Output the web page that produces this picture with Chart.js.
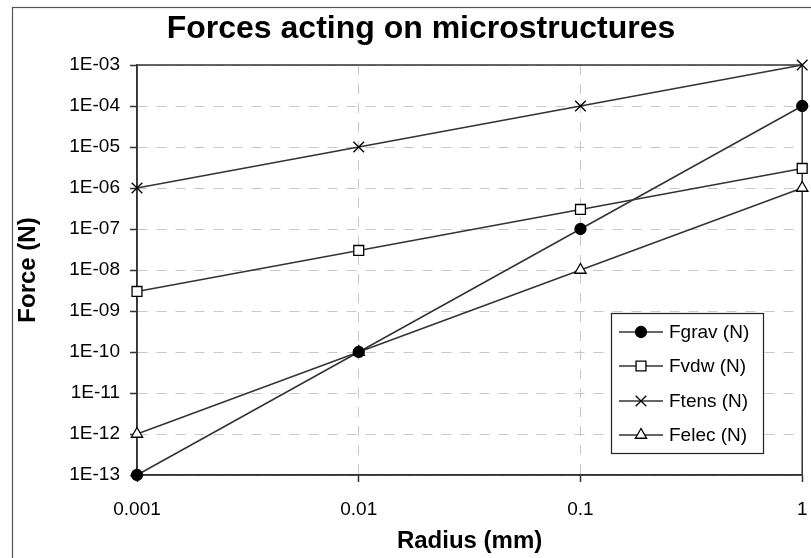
<!DOCTYPE html>
<html>
<head>
<meta charset="utf-8">
<script src="https://cdn.jsdelivr.net/npm/chart.js@4.4.1/dist/chart.umd.min.js"></script>
<style>
html,body{margin:0;padding:0;background:#fff;}
#wrap{width:811px;height:558px;position:relative;}
</style>
</head>
<body>
<div id="wrap"><canvas id="c" width="811" height="558"></canvas></div>
<script>
// ---- data ----
const radius = [0.001, 0.01, 0.1, 1];
const fgrav = [1e-13, 1e-10, 1e-7, 1e-4];
const fvdw  = [3e-9, 3e-8, 3e-7, 3e-6];
const ftens = [1e-6, 1e-5, 1e-4, 1e-3];
const felec = [1e-12, 1e-10, 1e-8, 1e-6];
const seriesNames = ['Fgrav (N)', 'Fvdw (N)', 'Ftens (N)', 'Felec (N)'];
const xTickValues = [0.001, 0.01, 0.1, 1];
const xTickLabels = ['0.001', '0.01', '0.1', '1'];
const yTickValues = [1e-13, 1e-12, 1e-11, 1e-10, 1e-9, 1e-8, 1e-7, 1e-6, 1e-5, 1e-4, 1e-3];
const yTickLabels = ['1E-13', '1E-12', '1E-11', '1E-10', '1E-09', '1E-08', '1E-07', '1E-06', '1E-05', '1E-04', '1E-03'];
const chartTitle = 'Forces acting on microstructures';

const FONT = '"Liberation Sans", Arial, sans-serif';
const LINE = '#333333';

function pts(vals) { return radius.map((r, i) => ({x: r, y: vals[i]})); }

const styles = [
  {pointStyle: 'circle',   pointRadius: 5.5, bg: '#000000'},
  {pointStyle: 'rect',     pointRadius: 7,   bg: '#ffffff'},
  {pointStyle: 'crossRot', pointRadius: 7.5, bg: '#ffffff'},
  {pointStyle: 'triangle', pointRadius: 6.5, bg: '#ffffff'}
];
const series = [fgrav, fvdw, ftens, felec];

const datasets = series.map((s, i) => ({
  label: seriesNames[i],
  data: pts(s),
  showLine: true,
  borderColor: LINE,
  borderWidth: 1.5,
  pointStyle: styles[i].pointStyle,
  pointRadius: styles[i].pointRadius,
  pointBackgroundColor: styles[i].bg,
  pointBorderColor: '#000000',
  pointBorderWidth: 1.3,
  clip: false
}));

function findIdx(arr, v) {
  for (let i = 0; i < arr.length; i++) if (Math.abs(Math.log10(arr[i]) - Math.log10(v)) < 1e-6) return i;
  return -1;
}

const framePlugin = {
  id: 'frame',
  beforeDraw(chart) {
    const ctx = chart.ctx;
    ctx.save();
    ctx.fillStyle = '#ffffff';
    ctx.fillRect(0, 0, chart.width, chart.height);
    ctx.strokeStyle = '#555555';
    ctx.lineWidth = 1.2;
    ctx.strokeRect(12.5, 7.5, 1000, 800);
    ctx.restore();
  },
  beforeDatasetsDraw(chart) {
    const a = chart.chartArea;
    const ctx = chart.ctx;
    ctx.save();
    ctx.strokeStyle = LINE;
    ctx.lineWidth = 1.5;
    ctx.strokeRect(a.left, a.top, a.right - a.left, a.bottom - a.top);
    ctx.restore();
  },
  afterDraw(chart) {
    const ctx = chart.ctx;
    ctx.save();
    ctx.fillStyle = '#000000';
    ctx.font = 'bold 32px ' + FONT;
    ctx.textAlign = 'center';
    ctx.textBaseline = 'middle';
    ctx.fillText(chartTitle, 421, 29);
    ctx.restore();
  }
};

const legendPlugin = {
  id: 'customLegend',
  afterDraw(chart) {
    const ctx = chart.ctx;
    const bx = 611, by = 313, bw = 152, bh = 140;
    ctx.save();
    ctx.fillStyle = '#ffffff';
    ctx.fillRect(bx, by, bw, bh);
    ctx.strokeStyle = '#222222';
    ctx.lineWidth = 1.2;
    ctx.strokeRect(bx + 0.5, by + 0.5, bw, bh);
    const rows = [332, 366, 401, 435];
    chart.data.datasets.forEach((ds, i) => {
      const y = rows[i];
      ctx.strokeStyle = LINE;
      ctx.lineWidth = 1.5;
      ctx.beginPath();
      ctx.moveTo(619, y);
      ctx.lineTo(663, y);
      ctx.stroke();
      ctx.fillStyle = ds.pointBackgroundColor;
      ctx.strokeStyle = '#000000';
      ctx.lineWidth = 1.3;
      Chart.helpers.drawPoint(ctx, {pointStyle: ds.pointStyle, radius: ds.pointRadius, rotation: 0, borderWidth: 1.3}, 641, y);
      ctx.fillStyle = '#000000';
      ctx.font = '19px ' + FONT;
      ctx.textAlign = 'left';
      ctx.textBaseline = 'middle';
      ctx.fillText(ds.label, 669, y + 1);
    });
    ctx.restore();
  }
};

new Chart(document.getElementById('c'), {
  type: 'scatter',
  data: {datasets},
  plugins: [framePlugin, legendPlugin],
  options: {
    responsive: false,
    animation: false,
    devicePixelRatio: 1,
    layout: {padding: {left: 0, right: 8, top: 65, bottom: 0}},
    plugins: {
      legend: {display: false},
      tooltip: {enabled: false},
      title: {display: false}
    },
    scales: {
      x: {
        type: 'logarithmic',
        min: 0.001,
        max: 1,
        afterBuildTicks(scale) { scale.ticks = xTickValues.map(v => ({value: v, major: true})); },
        afterFit(scale) { scale.height = 83; scale.paddingLeft = 0; scale.paddingRight = 0; },
        ticks: {
          color: '#000000',
          font: {family: FONT, size: 19},
          padding: 16,
          maxRotation: 0,
          autoSkip: false,
          callback(v) { const k = findIdx(xTickValues, v); return k >= 0 ? xTickLabels[k] : ''; }
        },
        grid: {color: '#c8c8c8', lineWidth: 1, tickLength: 7, tickColor: LINE, tickWidth: 1.5},
        border: {display: true, color: LINE, width: 1.5, dash: [10, 9]},
        title: {display: true, text: 'Radius (mm)', color: '#000000', font: {family: FONT, size: 24, weight: 'bold'}, padding: {top: 0, bottom: 2}}
      },
      y: {
        type: 'logarithmic',
        min: 1e-13,
        max: 1e-3,
        afterBuildTicks(scale) { scale.ticks = yTickValues.map(v => ({value: v, major: true})); },
        afterFit(scale) { scale.width = 137; scale.paddingTop = 0; scale.paddingBottom = 0; },
        ticks: {
          color: '#000000',
          font: {family: FONT, size: 19},
          padding: 10,
          autoSkip: false,
          callback(v) { const k = findIdx(yTickValues, v); return k >= 0 ? yTickLabels[k] : ''; }
        },
        grid: {color: '#c8c8c8', lineWidth: 1, tickLength: 7, tickColor: LINE, tickWidth: 1.5},
        border: {display: true, color: LINE, width: 1.5, dash: [10, 9]},
        title: {display: true, text: 'Force (N)', color: '#000000', font: {family: FONT, size: 24, weight: 'bold'}, padding: {top: 14, bottom: 0}}
      }
    }
  }
});
</script>
</body>
</html>
